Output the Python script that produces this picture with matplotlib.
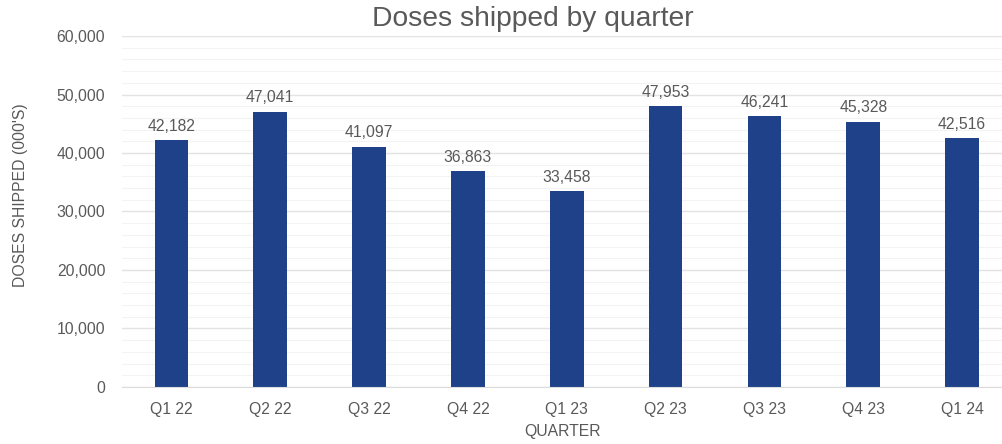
import numpy as np
import matplotlib.pyplot as plt
from matplotlib.ticker import MultipleLocator, FuncFormatter

plt.rcParams['font.family'] = ['Liberation Sans', 'DejaVu Sans']

quarters = ["Q1 22", "Q2 22", "Q3 22", "Q4 22", "Q1 23", "Q2 23", "Q3 23", "Q4 23", "Q1 24"]
doses = [42182, 47041, 41097, 36863, 33458, 47953, 46241, 45328, 42516]

TEXT = "#595959"
BAR = "#1f4189"

fig = plt.figure(figsize=(10.03, 4.44), dpi=100)
ax = fig.add_axes([0.1216, 0.1284, 0.878, 0.7905])

x = np.arange(len(quarters))
bars = ax.bar(x, doses, width=0.34, color=BAR, zorder=3)
for xi, v in zip(x, doses):
    ax.text(xi, v + 1100, f"{v:,}", ha="center", va="bottom", fontsize=11.3, color=TEXT)

ax.set_ylim(0, 60000)
ax.set_xlim(-0.5, len(quarters) - 0.59)
ax.yaxis.set_major_locator(MultipleLocator(10000))
ax.yaxis.set_minor_locator(MultipleLocator(2000))
ax.yaxis.set_major_formatter(FuncFormatter(lambda v, p: f"{int(v):,}"))
ax.grid(axis="y", which="major", color="#e3e3e3", linewidth=1.0, zorder=0)
ax.grid(axis="y", which="minor", color="#f3f3f3", linewidth=0.8, zorder=0)
ax.set_xticks(x)
ax.set_xticklabels(quarters)
ax.tick_params(axis="both", which="both", length=0, colors=TEXT, labelsize=11.3)
ax.tick_params(axis="y", pad=12)
ax.tick_params(axis="x", pad=11)
for s in ["top", "right", "left"]:
    ax.spines[s].set_visible(False)
ax.spines["bottom"].set_color("#dcdcdc")
ax.spines["bottom"].set_zorder(4)

fig.text(0.531, 0.958, "Doses shipped by quarter", fontsize=20.3, color=TEXT, ha="center", va="center")
ax.set_xlabel("QUARTER", fontsize=11.3, color=TEXT, labelpad=5)
ax.set_ylabel("DOSES SHIPPED (000'S)", fontsize=11.3, color=TEXT)
ax.yaxis.set_label_coords(-0.107, 0.547)

fig.savefig("out.png", dpi=100)
